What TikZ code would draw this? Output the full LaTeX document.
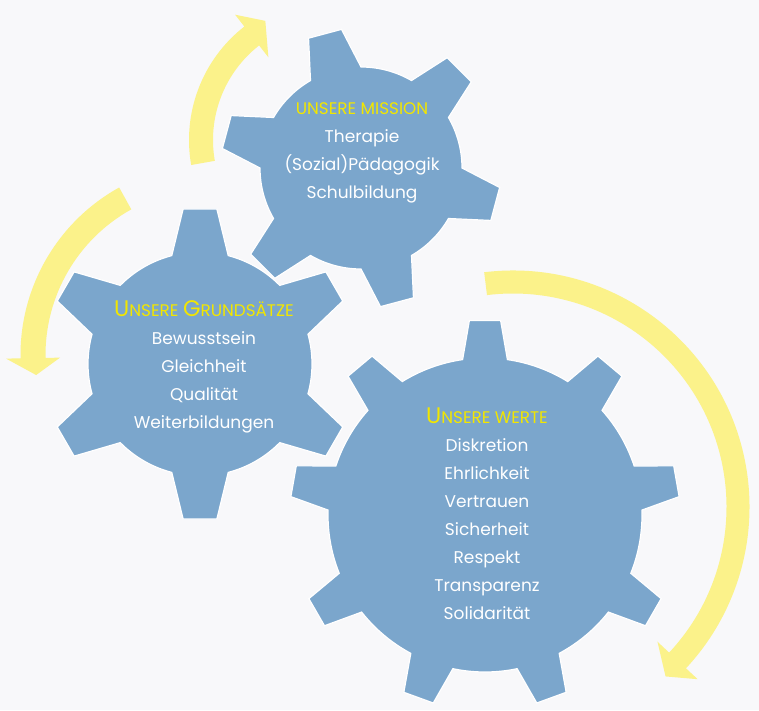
\documentclass[tikz,border=0pt]{standalone}
\usepackage{fontspec}
\setmainfont{Poppins}
\definecolor{bgc}{HTML}{F8F8FA}
\definecolor{gearblue}{HTML}{7BA6CC}
\definecolor{arrowyellow}{HTML}{FBF28A}
\definecolor{titleyellow}{HTML}{F2E600}
\tikzset{
  gearfill/.style={fill=gearblue, draw=white, line width=1.2pt, line join=miter},
  arrowfill/.style={fill=arrowyellow},
  geartext/.style={text=white, align=center, inner sep=0pt, font=\fontsize{17}{28}\selectfont},
}
\newcommand\capbig[1]{{\fontsize{22.5}{28}\selectfont #1}}
\newcommand\capsmall[1]{{\fontsize{16.8}{28}\selectfont #1}}
% #1 center, #2 teeth, #3 first angle, #4 body r, #5 tip r, #6 base half angle, #7 tip half angle
\newcommand\drawgear[7]{%
  \pgfmathsetmacro\gstep{360/#2}%
  \path[gearfill, shift={#1}] (#3-#6:#4)
    \foreach \k [evaluate=\k as \a using #3+(\k-1)*\gstep] in {1,...,#2}{
      -- (\a-#6:#4) -- (\a-#7:#5) -- (\a+#7:#5) -- (\a+#6:#4)
      arc[start angle=\a+#6, end angle=\a+\gstep-#6, radius=#4]
    } -- cycle;
}
% #1 center, #2 R, #3 half width, #4 head half width, #5 start angle, #6 head angle, #7 tip angle, #8 tip radius
\newcommand\drawcarrow[8]{%
  \pgfmathsetmacro\ro{#2+#3}\pgfmathsetmacro\ri{#2-#3}%
  \pgfmathsetmacro\ho{#2+#4}\pgfmathsetmacro\hi{#2-#4}%
  \path[arrowfill, shift={#1}] (#5:\ro) arc[start angle=#5, end angle=#6, radius=\ro]
    -- (#6:\ho) -- (#7:#8) -- (#6:\hi) -- (#6:\ri)
    arc[start angle=#6, end angle=#5, radius=\ri] -- cycle;
}
\begin{document}
\begin{tikzpicture}[x=1pt,y=1pt]
\useasboundingbox (0,0) rectangle (759,710);
\fill[bgc] (0,0) rectangle (759,710);
% arrows
\drawcarrow{(333,570)}{132}{12}{27}{190}{128}{119.6}{137}
\drawcarrow{(212,355)}{179}{12.5}{27}{119}{181}{186.5}{177}
\drawcarrow{(513,203)}{225}{11.5}{27.5}{97}{-43}{-48}{228}
% gears
\drawgear{(361,542)}{6}{105}{101}{140}{15}{7}
\drawgear{(485,195)}{9}{90}{157}{195}{8.2}{4.6}
\drawgear{(200,346)}{6}{90}{112}{156}{14.6}{6.2}
% texts
\node[geartext] (mission) at (362,557) {{\color{titleyellow}\capsmall{UNSERE MISSION}}\\Therapie\\(Sozial)Pädagogik\\Schulbildung};
\node[geartext] (grund) at (204,343) {{\color{titleyellow}\capbig{U}\capsmall{NSERE }\capbig{G}\capsmall{RUNDSÄTZE}}\\Bewusstsein\\Gleichheit\\Qualität\\Weiterbildungen};
\node[geartext] (werte) at (487,196) {{\color{titleyellow}\capbig{U}\capsmall{NSERE WERTE}}\\Diskretion\\Ehrlichkeit\\Vertrauen\\Sicherheit\\Respekt\\Transparenz\\Solidarität};
\end{tikzpicture}
\end{document}
